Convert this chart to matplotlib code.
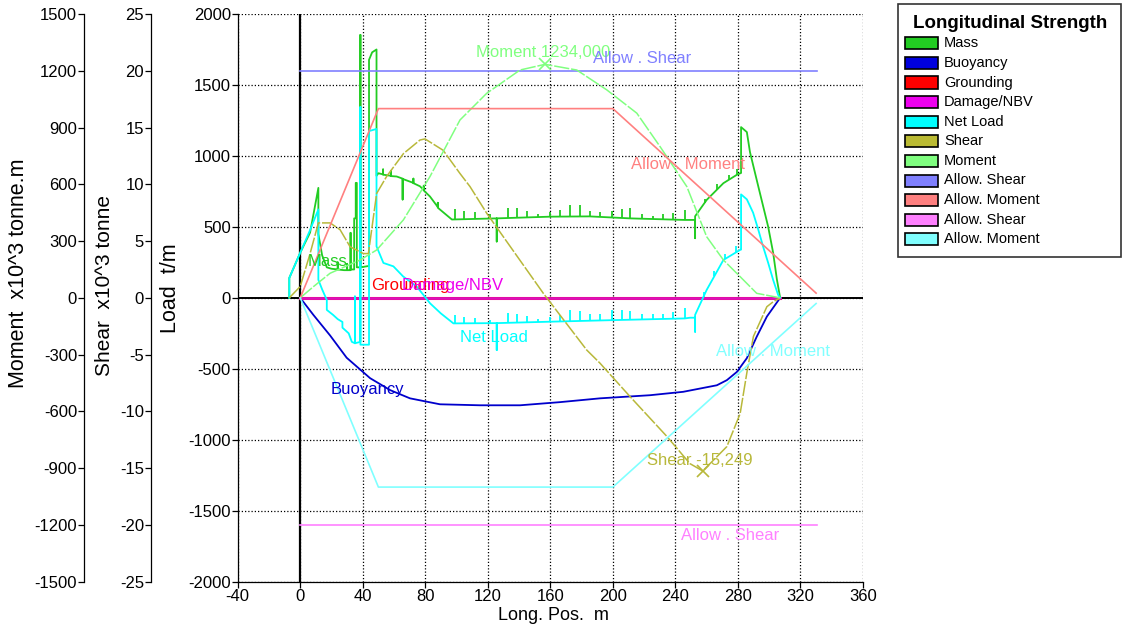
import matplotlib
matplotlib.use('Agg')
import matplotlib.pyplot as plt
from matplotlib.patches import Rectangle

plt.rcParams['font.family'] = ['Liberation Sans', 'DejaVu Sans']
plt.rcParams['axes.unicode_minus'] = False

# ---------------- data ----------------
x_ticks = [-40, 0, 40, 80, 120, 160, 200, 240, 280, 320, 360]
load_ticks = [-2000, -1500, -1000, -500, 0, 500, 1000, 1500, 2000]
shear_ticks = [-25, -20, -15, -10, -5, 0, 5, 10, 15, 20, 25]
moment_ticks = [-1500, -1200, -900, -600, -300, 0, 300, 600, 900, 1200, 1500]

# Mass (t/m)
mass_x = [-7, -7, 0, 6.3, 11.6, 11.6, 14, 17, 20, 24, 24, 24, 28, 30, 30, 30, 32.2, 32.2, 32.2,
          34.5, 34.5, 35.5, 35.5, 36.2, 36.2, 38.5, 38.5, 38.5, 44, 44, 46, 48.8, 48.8, 50, 53, 53,
          53, 58, 58, 58, 61.7, 65.5, 65.5, 65.5, 72.4, 72.4, 72.4, 76.6, 79, 79, 79, 83, 88, 88,
          88, 97, 125.7, 125.7, 125.7, 160, 185, 211, 246, 249.3, 252.6, 252.6, 252.6, 260, 270.7,
          279.3, 282, 282, 285.7, 287.7, 293, 299.3, 302.5, 304.9, 307]
mass_y = [0, 140, 318, 460, 775, 450, 300, 215, 205, 200, 250, 200, 195, 195, 240, 195, 195, 458, 200,
          200, 560, 560, 810, 810, 215, 215, 1853, 215, 225, 1677, 1730, 1750, 860, 878, 870, 905,
          868, 860, 895, 858, 855, 840, 693, 838, 810, 840, 808, 786, 760, 790, 757, 714, 640, 670,
          635, 552, 560, 397, 560, 572, 574, 560, 549, 549, 549, 420, 575, 690, 808,
          867, 880, 1203, 1168, 1027, 786, 503, 319, 131, 0]
mass_tick_x = [99, 104.5, 111.8, 121.4, 133.1, 138.4, 144.9, 152.3, 160, 166.3, 172.7, 179.1, 185.5,
               191.8, 199.3, 205.7, 211, 218.5, 225.9, 232.3, 238.7, 246.2, 259, 266.5, 274, 279.3]
mass_tick_base = [553, 555, 557, 559, 563, 565, 567, 569, 572, 572, 573, 573, 574,
                  571, 568, 564, 560, 558, 555, 553, 551, 549, 665, 762, 831, 867]
mass_tick_len = [70, 59, 47, 30, 70, 70, 47, 25, 35, 47, 82, 82, 35,
                 35, 47, 59, 70, 35, 23, 35, 47, 70, 35, 40, 35, 40]

# Buoyancy (t/m)
buoy_x = [0, 8.4, 19.1, 29.7, 44.7, 57.5, 70.2, 89.4, 115, 140.6, 166, 191.8, 223.8, 245,
          266.5, 272.9, 279.3, 285.7, 292, 298.5, 307]
buoy_y = [0, -120, -265, -422, -566, -650, -708, -750, -757, -757, -735, -708, -686, -662,
          -616, -580, -522, -425, -274, -132, 0]

# Grounding and Damage/NBV (t/m)
ground_x = [0, 307]
ground_y = [0, 0]
damage_x = [0, 307]
damage_y = [0, 0]

# Net load (t/m)
net_x = [-7, -7, 0, 6, 11.6, 11.6, 14, 17, 17, 21, 24, 27, 27, 31, 33, 35, 35, 35, 38.5, 38.5,
         38.5, 44, 44, 48.8, 48.8, 53.2, 59.6, 65.8, 74.5, 83, 90, 98, 125.7, 125.7, 125.7, 160,
         200, 246, 249.3, 252.6, 252.6, 252.6, 260, 270.7, 281.4, 282, 282, 285.7, 289.7, 293,
         296.1, 299.3, 302.5, 305.7, 307]
net_y = [0, 140, 318, 470, 623, 127, 60, -15, -85, -120, -150, -170, -210, -250, -310, -320, 10,
         -320, -310, 1345, -330, -330, 1175, 1190, 363, 246, 222, 151, 80, -38, -110, -180, -178,
         -368, -178, -168, -157, -145, -140, -140, -239, -120, 56, 267, 338, 340, 729, 694, 600,
         481, 361, 248, 127, 21, 0]
net_tick_x = [99, 104.5, 111.8, 121.4, 133.1, 138.4, 144.9, 152.3, 160, 166.3, 172.7, 179.1, 185.5,
              191.8, 199.3, 205.7, 211, 218.5, 225.9, 232.3, 238.7, 246.2, 258, 265, 272, 279]
net_tick_base = [-180, -180, -179, -178, -176, -174, -172, -170, -168, -166, -165, -163, -161,
                 -159, -157, -156, -154, -152, -150, -149, -147, -145, 8, 155, 276, 322]
net_tick_len = [59, 47, 35, 25, 70, 59, 47, 23, 35, 47, 82, 70, 47,
                47, 70, 70, 59, 35, 35, 35, 47, 70, 35, 35, 35, 40]

# Shear (x10^3 tonne)
shear_x = [-7, 0, 6.3, 11.6, 19.1, 25.5, 31.9, 40.4, 43.6, 48.9, 55.3, 66, 76.6, 79.8, 91.4, 102.2,
           108.6, 119.3, 155.5, 183.3, 191.8, 211, 234.5, 249.3, 257.5, 272.9, 281.4, 285.7, 289.9,
           298.5, 302.7, 307]
shear_y = [0, 1.0, 3.9, 6.6, 6.6, 6.0, 4.5, 3.9, 3.9, 9.2, 10.7, 12.7, 13.9, 14.0, 13.0, 10.95,
           9.8, 7.45, 0.4, -4.6, -5.76, -8.7, -12.2, -14.6, -15.249, -13.1, -10.2, -6.6, -3.4,
           -0.78, -0.33, 0]

# Moment (x10^3 tonne.m)
mom_x = [0, 8.4, 19.1, 38.3, 48.9, 66, 83, 102.2, 119.3, 140.6, 156.6, 176.9, 196.1, 215.3,
         230.2, 247.3, 260, 270.7, 281.4, 292, 307]
mom_y = [0, 59, 130, 200, 253, 412, 641, 940, 1081, 1204, 1234, 1204, 1099, 976,
         799, 588, 323, 200, 112, 24, 0]

# Allowables
allow_shear_x = [0, 330.6]
allow_shear_pos = [20, 20]
allow_shear_neg = [-20, -20]
allow_mom_x = [0, 50, 200, 330]
allow_mom_pos = [0, 1000, 1000, 25]
allow_mom_neg = [0, -1000, -1000, -30]

legend_labels = ['Mass', 'Buoyancy', 'Grounding', 'Damage/NBV', 'Net Load', 'Shear', 'Moment',
                 'Allow. Shear', 'Allow. Moment', 'Allow. Shear', 'Allow. Moment']
legend_colors = ['#22CC22', '#0000DD', '#FF0000', '#EE00EE', '#00FFFF', '#BBBB33', '#80FF80',
                 '#8080FF', '#FF8080', '#FF80FF', '#80FFFF']

# ---------------- layout ----------------
W, H = 1126, 630
fig = plt.figure(figsize=(W / 100, H / 100), dpi=100)
L, R, T, B = 237.7, 863, 14, 581.7
ax = fig.add_axes([L / W, 1 - B / H, (R - L) / W, (B - T) / H])


def fx(px):
    return px / W


def fy(py):
    return 1 - py / H


ax.set_xlim(-40, 360)
ax.set_ylim(-2000, 2000)
ax.set_xticks(x_ticks)
ax.set_yticks(load_ticks)
ax.set_axisbelow(True)
ax.grid(True, color='black', linestyle=(0, (1, 1.6)), linewidth=0.9)
for s in ['top', 'right']:
    ax.spines[s].set_visible(False)
for s in ['left', 'bottom']:
    ax.spines[s].set_linewidth(0.9)
ax.tick_params(direction='out', length=4, width=0.9, labelsize=12, pad=1)

ax.axvline(0, color='black', lw=1.6, zorder=1.5)
ax.axhline(0, color='black', lw=1.4, zorder=1.5)

c_mass, c_buoy, c_gr, c_dam, c_net, c_sh, c_mo, c_ash, c_amo, c_ash2, c_amo2 = legend_colors

ax.plot(mass_x, mass_y, color=c_mass, lw=1.3, zorder=3)
ax.vlines(mass_tick_x, mass_tick_base, [b + l for b, l in zip(mass_tick_base, mass_tick_len)],
          color=c_mass, lw=1.3, zorder=3)
ax.plot(buoy_x, buoy_y, color='#0000CC', lw=1.3, zorder=3)
ax.plot(ground_x, ground_y, color=c_gr, lw=2.2, zorder=3)
ax.plot(damage_x, damage_y, color='#DD10BB', lw=2.0, zorder=3)
ax.plot(net_x, net_y, color=c_net, lw=1.3, zorder=3)
ax.vlines(net_tick_x, net_tick_base, [b + l for b, l in zip(net_tick_base, net_tick_len)],
          color=c_net, lw=1.3, zorder=3)

# secondary axes
ax_sh = ax.twinx()
ax_mo = ax.twinx()
for a, xpos, lim, ticks in [(ax_sh, 151, (-25, 25), shear_ticks),
                            (ax_mo, 84, (-1500, 1500), moment_ticks)]:
    a.spines['left'].set_position(('axes', (xpos - L) / (R - L)))
    a.spines['left'].set_visible(True)
    a.spines['left'].set_linewidth(0.9)
    for s in ['right', 'top', 'bottom']:
        a.spines[s].set_visible(False)
    a.yaxis.set_ticks_position('left')
    a.set_ylim(*lim)
    a.set_yticks(ticks)
    a.tick_params(direction='out', length=4, width=0.9, labelsize=12, pad=1)
    a.set_xlim(-40, 360)

ax_sh.plot(shear_x, shear_y, color='#B8B83A', lw=1.1, linestyle=(0, (10, 1.2)))
ax_mo.plot(mom_x, mom_y, color=c_mo, lw=1.1, linestyle=(0, (10, 1.2)))
ax_sh.plot(allow_shear_x, allow_shear_pos, color=c_ash, lw=1.2)
ax_mo.plot(allow_mom_x, allow_mom_pos, color=c_amo, lw=1.2)
ax_sh.plot(allow_shear_x, allow_shear_neg, color=c_ash2, lw=1.2)
ax_mo.plot(allow_mom_x, allow_mom_neg, color=c_amo2, lw=1.2)

# peak markers
ax_mo.plot([156.6], [1234], marker='x', color=c_mo, ms=8, mew=1.2, linestyle='none')
ax_sh.plot([257.5], [-15.249], marker='x', color='#B8B83A', ms=8, mew=1.2, linestyle='none')

# in-plot labels (main axes, load units)
fs = 12
ann = [
    (112.5, 1726, 'Moment 1234,000', c_mo),
    (187.3, 1684, 'Allow . Shear', c_ash),
    (211.6, 937, 'Allow . Moment', c_amo),
    (5.0, 253, 'Mass', c_mass),
    (45.3, 84, 'Grounding', c_gr),
    (64.9, 84, 'Damage/NBV', c_dam),
    (102.2, -282, 'Net Load', c_net),
    (266.0, -381, 'Allow . Moment', c_amo2),
    (19.7, -649, 'Buoyancy', '#0000CC'),
    (221.9, -1149, 'Shear -15,249', '#B8B83A'),
    (243.6, -1671, 'Allow . Shear', c_ash2),
]
for x, y, t, c in ann:
    ax_mo.text(x, y * 0.75, t, color=c, fontsize=fs, ha='left', va='center', zorder=6)

# axis titles
fig.text(fx(18.5), fy(273), 'Moment  x10^3 tonne.m', rotation=90, ha='center', va='center', fontsize=15.5)
fig.text(fx(104), fy(286), 'Shear  x10^3 tonne', rotation=90, ha='center', va='center', fontsize=15)
fig.text(fx(170), fy(288.5), 'Load  t/m', rotation=90, ha='center', va='center', fontsize=15.5)
fig.text(fx(553), fy(615), 'Long. Pos.  m', ha='center', va='center', fontsize=13)

# legend (manual box)
fig.add_artist(Rectangle((fx(898), fy(257)), (1121 - 898) / W, (257 - 4) / H,
                         transform=fig.transFigure, facecolor='white', edgecolor='#333333', lw=1.2))
fig.text(fx(1010), fy(23), 'Longitudinal Strength', ha='center', va='center', fontsize=13.5,
         fontweight='bold')
for i, (lab, col) in enumerate(zip(legend_labels, legend_colors)):
    yc = 43.3 + i * 19.6
    fig.add_artist(Rectangle((fx(904.5), fy(yc + 6)), 33 / W, 12 / H, transform=fig.transFigure,
                             facecolor=col, edgecolor='black', lw=1.2))
    fig.text(fx(944), fy(yc), lab, ha='left', va='center', fontsize=10.5)

fig.savefig('out.png', dpi=100)
